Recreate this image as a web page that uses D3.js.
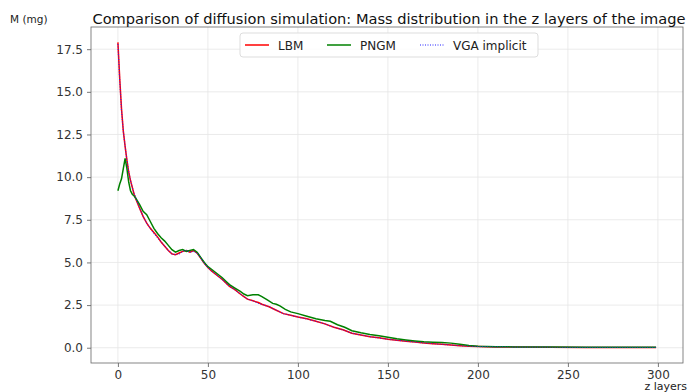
<!DOCTYPE html>
<html>
<head>
<meta charset="utf-8">
<script src="https://cdn.jsdelivr.net/npm/d3@7"></script>
<style>
  body { margin: 0; background: #fff; }
  svg { font-family: "DejaVu Sans", sans-serif; }
</style>
</head>
<body>
<svg id="chart"></svg>
<script>
// z layers (irregular sampling)
var zLBM = [0, 1, 2, 3, 4, 5, 6, 7, 8, 9, 10, 12, 14, 16, 18, 20, 22, 24, 26, 28, 30, 32, 34, 36, 38, 40, 42, 44, 46, 48, 50, 52, 55, 58, 60, 62, 65, 68, 70, 72, 75, 78, 80, 84, 88, 92, 96, 100, 105, 110, 115, 120, 125, 130, 135, 140, 145, 150, 155, 160, 165, 170, 175, 180, 185, 190, 195, 200, 210, 220, 240, 260, 280, 299];
var lbm = [17.9, 15.8, 14.0, 12.7, 11.8, 11.0, 10.3, 9.8, 9.4, 9.0, 8.7, 8.2, 7.7, 7.3, 7.0, 6.75, 6.5, 6.2, 5.95, 5.7, 5.5, 5.45, 5.55, 5.65, 5.7, 5.6, 5.7, 5.55, 5.25, 4.95, 4.7, 4.5, 4.25, 4.0, 3.8, 3.6, 3.4, 3.15, 3.0, 2.85, 2.75, 2.65, 2.55, 2.4, 2.2, 2.0, 1.9, 1.8, 1.7, 1.55, 1.4, 1.2, 1.05, 0.85, 0.75, 0.65, 0.58, 0.5, 0.44, 0.38, 0.33, 0.28, 0.24, 0.2, 0.16, 0.12, 0.09, 0.07, 0.05, 0.04, 0.03, 0.02, 0.02, 0.02];

var zPNGM = [0, 1, 2, 3, 4, 5, 6, 7, 8, 9, 10, 12, 14, 16, 18, 20, 22, 24, 26, 28, 30, 32, 34, 36, 38, 40, 42, 44, 46, 48, 50, 52, 55, 58, 60, 62, 65, 68, 70, 72, 75, 78, 80, 83, 86, 88, 90, 93, 96, 100, 105, 110, 115, 118, 122, 126, 130, 135, 140, 145, 150, 155, 160, 165, 170, 175, 180, 185, 190, 195, 200, 210, 220, 240, 260, 280, 299];
var pngm = [9.2, 9.6, 9.9, 10.5, 11.1, 10.5, 9.7, 9.2, 9.0, 8.9, 8.75, 8.4, 8.0, 7.8, 7.4, 7.0, 6.7, 6.45, 6.25, 6.0, 5.75, 5.6, 5.7, 5.75, 5.65, 5.7, 5.75, 5.6, 5.3, 5.0, 4.75, 4.6, 4.35, 4.1, 3.9, 3.7, 3.5, 3.3, 3.15, 3.05, 3.1, 3.1, 3.0, 2.8, 2.6, 2.55, 2.45, 2.25, 2.1, 2.0, 1.85, 1.7, 1.6, 1.55, 1.35, 1.2, 1.0, 0.88, 0.78, 0.7, 0.62, 0.52, 0.46, 0.4, 0.35, 0.32, 0.3, 0.27, 0.2, 0.13, 0.09, 0.06, 0.05, 0.04, 0.03, 0.03, 0.03];

var zVGA = zLBM;
var vga = [17.8, 15.7, 13.9, 12.7, 11.8, 11.0, 10.3, 9.8, 9.4, 9.05, 8.75, 8.2, 7.7, 7.3, 7.0, 6.7, 6.45, 6.2, 5.95, 5.7, 5.5, 5.45, 5.5, 5.65, 5.7, 5.6, 5.65, 5.55, 5.25, 4.95, 4.7, 4.5, 4.25, 4.0, 3.8, 3.6, 3.4, 3.15, 3.0, 2.85, 2.75, 2.6, 2.55, 2.4, 2.2, 2.0, 1.9, 1.8, 1.68, 1.55, 1.4, 1.2, 1.05, 0.85, 0.75, 0.65, 0.57, 0.5, 0.44, 0.38, 0.33, 0.28, 0.24, 0.2, 0.16, 0.12, 0.09, 0.07, 0.05, 0.04, 0.03, 0.02, 0.02, 0.02];

var xTicks = [0, 50, 100, 150, 200, 250, 300];
var yTicks = [0, 2.5, 5, 7.5, 10, 12.5, 15, 17.5];
var seriesNames = ["LBM", "PNGM", "VGA implicit"];

var svgWidth = 688, svgHeight = 392;
var margin = {left: 91, right: 5, top: 27, bottom: 29};

var svg = d3.select("#chart")
    .attr("width", svgWidth)
    .attr("height", svgHeight);

var xScale = d3.scaleLinear()
    .domain([-14.95, 313.95])
    .range([margin.left, svgWidth - margin.right]);

var yScale = d3.scaleLinear()
    .domain([-0.895, 18.8])
    .range([svgHeight - margin.bottom, margin.top]);

// grid
svg.append("g").selectAll("line")
    .data(xTicks)
    .enter()
    .append("line")
    .attr("x1", function(d) { return xScale(d); })
    .attr("x2", function(d) { return xScale(d); })
    .attr("y1", margin.top)
    .attr("y2", svgHeight - margin.bottom)
    .attr("stroke", "#e6e6e6")
    .attr("stroke-width", 0.8);

svg.append("g").selectAll("line")
    .data(yTicks)
    .enter()
    .append("line")
    .attr("x1", margin.left)
    .attr("x2", svgWidth - margin.right)
    .attr("y1", function(d) { return yScale(d); })
    .attr("y2", function(d) { return yScale(d); })
    .attr("stroke", "#e6e6e6")
    .attr("stroke-width", 0.8);

// axes
var x_axis = d3.axisBottom(xScale).tickValues(xTicks).tickSize(4).tickPadding(3)
    .tickFormat(d3.format("d"));
var y_axis = d3.axisLeft(yScale).tickValues(yTicks).tickSize(4).tickPadding(4)
    .tickFormat(d3.format(".1f"));

var gx = svg.append("g")
    .attr("transform", "translate(0," + (svgHeight - margin.bottom) + ")")
    .call(x_axis);
var gy = svg.append("g")
    .attr("transform", "translate(" + margin.left + ",0)")
    .call(y_axis);

[gx, gy].forEach(function(g) {
  g.select(".domain").remove();
  g.selectAll(".tick line").attr("stroke", "#555").attr("stroke-width", 0.8);
  g.selectAll(".tick text").attr("fill", "#333").style("font-size", "12px")
    .style("font-family", "DejaVu Sans, sans-serif");
});

// frame
svg.append("rect")
    .attr("x", margin.left)
    .attr("y", margin.top)
    .attr("width", svgWidth - margin.right - margin.left)
    .attr("height", svgHeight - margin.bottom - margin.top)
    .attr("fill", "none")
    .attr("stroke", "#666")
    .attr("stroke-width", 0.8);

// lines
var line = d3.line()
    .x(function(d) { return xScale(d[0]); })
    .y(function(d) { return yScale(d[1]); });

svg.append("path")
    .datum(d3.zip(zLBM, lbm))
    .attr("d", line)
    .attr("fill", "none")
    .attr("stroke", "#ff0000")
    .attr("stroke-width", 1.5);

svg.append("path")
    .datum(d3.zip(zPNGM, pngm))
    .attr("d", line)
    .attr("fill", "none")
    .attr("stroke", "#008000")
    .attr("stroke-width", 1.5);

svg.append("path")
    .datum(d3.zip(zVGA, vga))
    .attr("d", line)
    .attr("fill", "none")
    .attr("stroke", "#2020ff")
    .attr("stroke-opacity", 0.8)
    .attr("stroke-width", 1.2)
    .attr("stroke-dasharray", "1,1.5");

// title and axis labels
svg.append("text")
    .attr("x", 389)
    .attr("y", 24)
    .attr("text-anchor", "middle")
    .style("font-size", "14.6px")
    .attr("fill", "#111")
    .text("Comparison of diffusion simulation: Mass distribution in the z layers of the image");

svg.append("text")
    .attr("x", 10)
    .attr("y", 23)
    .style("font-size", "10.5px")
    .attr("fill", "#222")
    .text("M (mg)");

svg.append("text")
    .attr("x", 687)
    .attr("y", 390)
    .attr("text-anchor", "end")
    .style("font-size", "11px")
    .attr("fill", "#222")
    .text("z layers");

// legend
var legend = svg.append("g");
legend.append("rect")
    .attr("x", 240).attr("y", 33)
    .attr("width", 298).attr("height", 24)
    .attr("rx", 3)
    .attr("fill", "#fff")
    .attr("fill-opacity", 0.85)
    .attr("stroke", "#ddd");

var legendX = [245, 327, 420];
var legendColors = ["#ff0000", "#008000", "#2020ff"];
var legendDash = [null, null, "1,1.5"];
seriesNames.forEach(function(name, i) {
  legend.append("line")
      .attr("x1", legendX[i]).attr("x2", legendX[i] + 24)
      .attr("y1", 45).attr("y2", 45)
      .attr("stroke", legendColors[i])
      .attr("stroke-width", i == 2 ? 1.2 : 1.5)
      .attr("stroke-dasharray", legendDash[i]);
  legend.append("text")
      .attr("x", legendX[i] + 33)
      .attr("y", 49.5)
      .style("font-size", "12px")
      .attr("fill", "#222")
      .text(name);
});
</script>
</body>
</html>
